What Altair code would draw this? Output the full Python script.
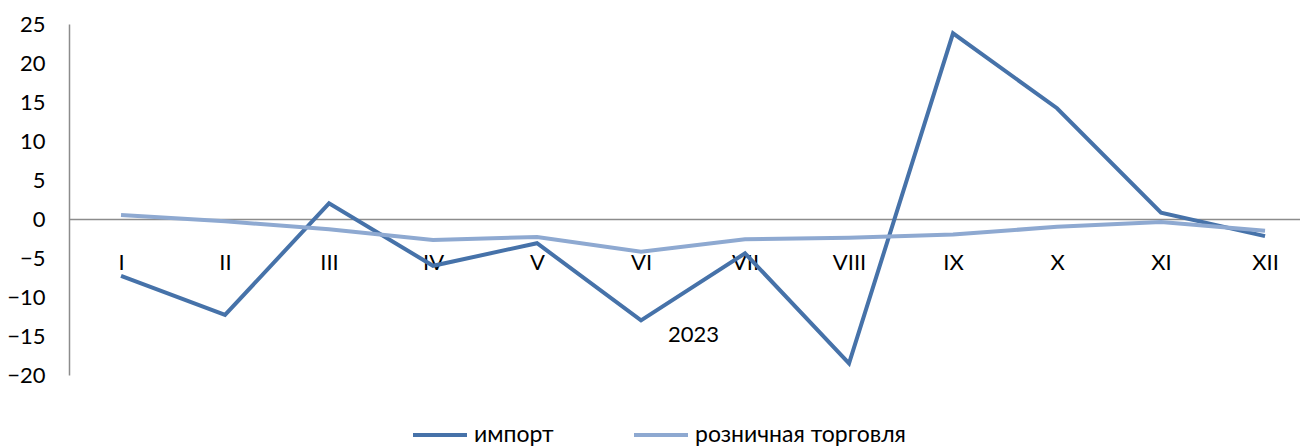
import altair as alt
import pandas as pd

months = ["I", "II", "III", "IV", "V", "VI", "VII", "VIII", "IX", "X", "XI", "XII"]
import_vals = [-7.3, -12.3, 2.0, -6.0, -3.1, -13.0, -4.4, -18.5, 23.8, 14.2, 0.8, -2.2]
retail_vals = [0.5, -0.3, -1.3, -2.7, -2.3, -4.2, -2.6, -2.4, -2.0, -1.0, -0.4, -1.5]
series_names = ["импорт", "розничная торговля"]
series_colors = ["#4672a9", "#8ea9d1"]
year_label = "2023"

rows = []
for m, v in zip(months, import_vals):
    rows.append({"month": m, "series": series_names[0], "value": v})
for m, v in zip(months, retail_vals):
    rows.append({"month": m, "series": series_names[1], "value": v})
df = pd.DataFrame(rows)

FONT = "Lato"
FS = 22

chart = alt.Chart(df).mark_line(strokeWidth=4, strokeCap="butt", strokeJoin="miter").encode(
    x=alt.X(
        "month:N",
        sort=months,
        scale=alt.Scale(type="point", padding=0.4183, align=0.598),
        axis=alt.Axis(
            orient="bottom",
            offset=-156,
            title=year_label,
            titleX=624,
            titleAlign="center",
            titleAnchor="start",
            titleFont=FONT,
            titleFontSize=FS,
            titleFontWeight="normal",
            titleColor="#000000",
            titlePadding=51,
            labelFont=FONT,
            labelFontSize=FS,
            labelColor="#000000",
            labelPadding=33,
            labelAngle=0,
            ticks=False,
            domainColor="#8c8c8c",
            domainWidth=1.5,
            grid=False,
        ),
    ),
    y=alt.Y(
        "value:Q",
        scale=alt.Scale(domain=[-20, 25], nice=False, zero=False),
        axis=alt.Axis(
            values=[-20, -15, -10, -5, 0, 5, 10, 15, 20, 25],
            title=None,
            labelFont=FONT,
            labelFontSize=FS,
            labelColor="#000000",
            labelPadding=24,
            labelFlush=False,
            labelBound=False,
            labelOverlap=False,
            ticks=False,
            domainColor="#8c8c8c",
            domainWidth=1.5,
            grid=False,
        ),
    ),
    color=alt.Color(
        "series:N",
        sort=series_names,
        scale=alt.Scale(domain=series_names, range=series_colors),
        legend=alt.Legend(
            title=None,
            orient="none",
            direction="horizontal",
            legendX=342,
            legendY=382,
            symbolType="stroke",
            symbolSize=2916,
            symbolStrokeWidth=4,
            labelFont=FONT,
            labelFontSize=23,
            labelColor="#000000",
            labelOffset=5,
            labelLimit=400,
            columnPadding=72,
        ),
    ),
).properties(
    width=1231,
    height=351,
    autosize=alt.AutoSizeParams(type="none"),
    padding={"left": 61, "top": 16, "right": 0, "bottom": 73},
).configure(background="#ffffff").configure_view(stroke=None, strokeWidth=0)

chart.save("out.html", embed_options={"renderer": "svg", "actions": False})
